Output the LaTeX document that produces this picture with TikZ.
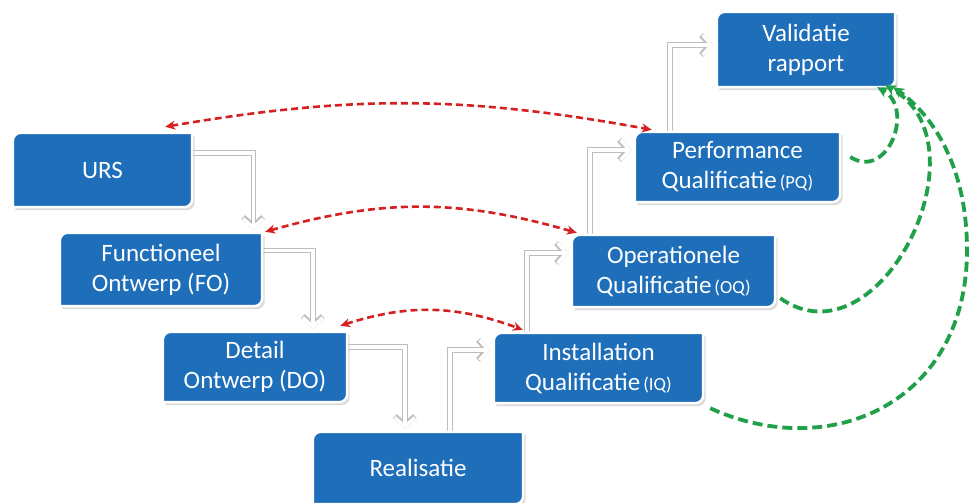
\documentclass[tikz,border=0pt]{standalone}
\usepackage{fontspec}
\setmainfont{Carlito}
\usetikzlibrary{calc,arrows.meta}
\definecolor{blokblauw}{RGB}{30,110,186}
\definecolor{pijlrood}{RGB}{212,32,32}
\definecolor{pijlgroen}{RGB}{32,160,72}
\pgfdeclarelayer{grond}
\pgfdeclarelayer{lijnen}
\pgfdeclarelayer{vlakken}
\pgfsetlayers{grond,lijnen,vlakken,main}
\newcommand\klein{\fontsize{18.5}{22}\selectfont}
\newcommand\afk[1]{\hspace{3pt}{\klein(#1)}}
% box outline: rounded top-left and bottom-right corners, shifted by (#2,#3)
\newcommand\blokpad[4]{%
  \path[#4] ($(#1.north west)+(#2,#3-8)$) arc[start angle=180,end angle=90,radius=8pt]
    -- ($(#1.north east)+(#2,#3)$)
    -- ($(#1.south east)+(#2,#3+8)$) arc[start angle=0,end angle=-90,radius=8pt]
    -- ($(#1.south west)+(#2,#3)$) -- cycle;}
\newcommand\blokvorm[1]{%
  \blokpad{#1}{2.5}{-3}{fill=black!40,opacity=.35}%
  \blokpad{#1}{0}{0}{fill=blokblauw,draw=white,line width=2.5pt}}
\begin{document}
\begin{tikzpicture}[x=1pt,y=1pt,
  blok/.style={inner sep=0pt, align=center, text=white,
    font=\fontsize{25}{30}\selectfont},
  flow/.style={preaction={draw=black!26, line width=5.4pt,
      -{Straight Barb[length=9pt,width=20pt]}},
    draw=white, line width=3.4pt, -{Straight Barb[length=9pt,width=20pt]}},
  rood/.style={draw=pijlrood, line width=2.6pt, dash pattern=on 7pt off 4pt,
    {Stealth[length=10pt,width=9pt]}-{Stealth[length=10pt,width=9pt]}},
  groen/.style={draw=pijlgroen, line width=3.8pt, dash pattern=on 10pt off 5pt,
    -{Stealth[length=11pt,width=11pt]}}]
\begin{pgfonlayer}{grond}
  \fill[white] (0,0) rectangle (969,503);
\end{pgfonlayer}
\useasboundingbox (0,0) rectangle (969,503);

% the process steps
\node[blok, minimum width=179pt, minimum height=74pt] (urs)  at (102.5,333)  {URS};
\node[blok, minimum width=202pt, minimum height=73pt] (fo)   at (161,233.5)  {Functioneel\\Ontwerp (FO)};
\node[blok, minimum width=184pt, minimum height=70pt] (do)   at (255,136)    {Detail\\Ontwerp (DO)};
\node[blok, minimum width=210pt, minimum height=72pt] (real) at (418,35)     {Realisatie};
\node[blok, minimum width=209pt, minimum height=70pt] (iq)   at (598.5,135)  {Installation\\Qualificatie\afk{IQ}};
\node[blok, minimum width=203pt, minimum height=72pt] (oq)   at (673.5,232)  {Operationele\\Qualificatie\afk{OQ}};
\node[blok, minimum width=205pt, minimum height=70pt] (pq)   at (737.5,336)  {Performance\\Qualificatie\afk{PQ}};
\node[blok, minimum width=178pt, minimum height=75pt] (val)  at (806,453.5)  {Validatie\\rapport};

\begin{pgfonlayer}{vlakken}
  \blokvorm{urs}\blokvorm{fo}\blokvorm{do}\blokvorm{real}
  \blokvorm{iq}\blokvorm{oq}\blokvorm{pq}\blokvorm{val}
\end{pgfonlayer}

% the main flow, down the left leg and up the right leg
\begin{pgfonlayer}{lijnen}
  \draw[flow] ([yshift=17]urs.east) -| ([xshift=-9,yshift=3]fo.north east);
  \draw[flow] ([yshift=19]fo.east) -| ([xshift=150,yshift=3]do.north west);
  \draw[flow] ([yshift=20]do.east) -| ([xshift=92,yshift=3]real.north west);
  \draw[flow] ([xshift=137]real.north west) |- ([xshift=-3,yshift=18]iq.west);
  \draw[flow] ([xshift=33]iq.north west) |- ([xshift=-3,yshift=18]oq.west);
  \draw[flow] ([xshift=18]oq.north west) |- ([xshift=-3,yshift=17]pq.west);
  \draw[flow] ([xshift=35]pq.north west) |- ([xshift=-3,yshift=4.5]val.west);
\end{pgfonlayer}

% specification and qualification pairs
\draw[rood] ($(urs.north east)+(-27,6)$) to[bend left=10] ($(pq.north west)+(17,2)$);
\draw[rood] ($(fo.north east)+(3,1)$) to[bend left=16] ($(oq.north west)+(5,2)$);
\draw[rood] ($(do.north east)+(-7,6)$) to[bend left=19] ($(iq.north west)+(29,3)$);

% results feeding the validation report
\coordinate (bocht) at (967,253);
\draw[groen] ($(pq.east)+(10,10)$) .. controls (888,322) and (915,395) .. ($(val.south east)+(-18,0)$);
\draw[groen] ($(oq.south east)+(5,9)$) .. controls (880,135) and (990,360) .. ($(val.south east)+(-10,2)$);
\draw[groen] ($(iq.south east)+(7,-5)$) .. controls (830,40) and (967,100) .. (bocht)
  .. controls (967,340) and (930,390) .. ($(val.south east)+(-2,0)$);
\end{tikzpicture}
\end{document}
